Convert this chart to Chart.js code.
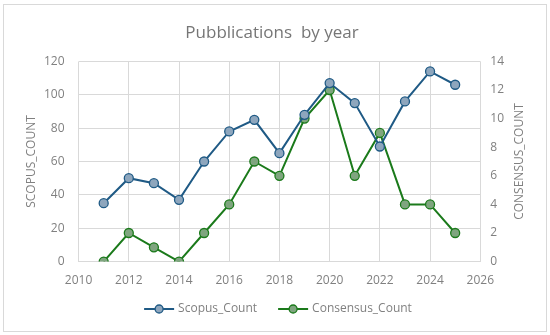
<!DOCTYPE html>
<html>
<head>
<meta charset="utf-8">
<script src="https://cdn.jsdelivr.net/npm/chart.js@4/dist/chart.umd.min.js"></script>
<style>
  html, body { margin: 0; padding: 0; background: #fff; }
  #box {
    position: absolute; left: 3px; top: 4px; width: 542px; height: 326px;
    border: 1px solid #d9d9d9; background: #fff;
  }
  canvas { display: block; }
</style>
</head>
<body>
<div id="box"><canvas id="chart" width="542" height="326"></canvas></div>
<script>
const years = [2011, 2012, 2013, 2014, 2015, 2016, 2017, 2018, 2019, 2020, 2021, 2022, 2023, 2024, 2025];
const scopusCount = [35, 50, 47, 37, 60, 78, 85, 65, 88, 107, 95, 69, 96, 114, 106];
const consensusCount = [0, 2, 1, 0, 2, 4, 7, 6, 10, 12, 6, 9, 4, 4, 2];

const textGray = '#808080';
const titleGray = '#767676';
const fontFamily = "'Open Sans', 'Liberation Sans', sans-serif";

const blue = '#1f5a85';
const blueFill = '#8ea6bd';
const green = '#1b7a1b';
const greenFill = '#7fa57f';

function points(values) {
  return years.map((y, i) => ({ x: y, y: values[i] }));
}

// axis titles (both read bottom to top) and a legend with line+circle icons
const extras = {
  id: 'extras',
  afterDraw(chart) {
    const { ctx, chartArea } = chart;
    const midY = (chartArea.top + chartArea.bottom) / 2;
    ctx.save();
    ctx.fillStyle = textGray;
    ctx.font = `12px ${fontFamily}`;
    ctx.textAlign = 'center';
    ctx.textBaseline = 'middle';
    [[28, 'SCOPUS_COUNT'], [516, 'CONSENSUS_COUNT']].forEach(([x, text]) => {
      ctx.save();
      ctx.translate(x, midY);
      ctx.rotate(-Math.PI / 2);
      ctx.fillText(text, 0, 0);
      ctx.restore();
    });

    // legend
    const ly = 304;
    const iconW = 30;
    const gapText = 4;
    const gapItem = 21;
    const items = chart.data.datasets.map((ds) => ({
      ds, w: iconW + gapText + ctx.measureText(ds.label).width,
    }));
    const total = items.reduce((s, it) => s + it.w, 0) + gapItem * (items.length - 1);
    let x = chart.width / 2 + 3 - total / 2;
    ctx.textAlign = 'left';
    items.forEach(({ ds, w }) => {
      ctx.strokeStyle = ds.borderColor;
      ctx.lineWidth = 2;
      ctx.beginPath();
      ctx.moveTo(x, ly);
      ctx.lineTo(x + iconW, ly);
      ctx.stroke();
      ctx.beginPath();
      ctx.arc(x + iconW / 2, ly, 4, 0, Math.PI * 2);
      ctx.fillStyle = ds.pointBackgroundColor;
      ctx.fill();
      ctx.lineWidth = 1.3;
      ctx.stroke();
      ctx.fillStyle = textGray;
      ctx.fillText(ds.label, x + iconW + gapText, ly);
      x += w + gapItem;
    });
    ctx.restore();
  },
};

new Chart(document.getElementById('chart'), {
  type: 'scatter',
  data: {
    datasets: [
      {
        label: 'Scopus_Count',
        data: points(scopusCount),
        yAxisID: 'y',
        showLine: true,
        borderColor: blue,
        backgroundColor: blueFill,
        borderWidth: 2,
        pointRadius: 4.5,
        pointBorderWidth: 1.3,
        pointBorderColor: blue,
        pointBackgroundColor: blueFill,
      },
      {
        label: 'Consensus_Count',
        data: points(consensusCount),
        yAxisID: 'y1',
        showLine: true,
        borderColor: green,
        backgroundColor: greenFill,
        borderWidth: 2,
        pointRadius: 4.5,
        pointBorderWidth: 1.3,
        pointBorderColor: green,
        pointBackgroundColor: greenFill,
      },
    ],
  },
  options: {
    responsive: false,
    animation: false,
    layout: { padding: { left: 26, right: 32, top: 12, bottom: 31 } },
    plugins: {
      title: {
        display: true,
        text: 'Pubblications  by year',
        color: titleGray,
        font: { family: fontFamily, size: 17, weight: 'normal' },
        padding: { top: 6, bottom: 18 },
      },
      legend: { display: false },
      tooltip: { enabled: false },
    },
    scales: {
      x: {
        type: 'linear',
        min: 2010,
        max: 2026,
        ticks: { stepSize: 2, color: textGray, font: { family: fontFamily, size: 12 }, padding: 12, callback: (v) => String(v) },
        grid: { color: '#d9d9d9', drawTicks: false },
        border: { color: '#d9d9d9' },
      },
      y: {
        position: 'left',
        min: 0,
        max: 120,
        ticks: { stepSize: 20, color: textGray, font: { family: fontFamily, size: 12 }, padding: 14 },
        grid: { color: '#d9d9d9', drawTicks: false },
        border: { display: false },
      },
      y1: {
        position: 'right',
        min: 0,
        max: 14,
        ticks: { stepSize: 2, color: textGray, font: { family: fontFamily, size: 12 }, padding: 10 },
        grid: { display: false, drawTicks: false },
        border: { display: false },
      },
    },
  },
  plugins: [extras],
});
</script>
</body>
</html>
